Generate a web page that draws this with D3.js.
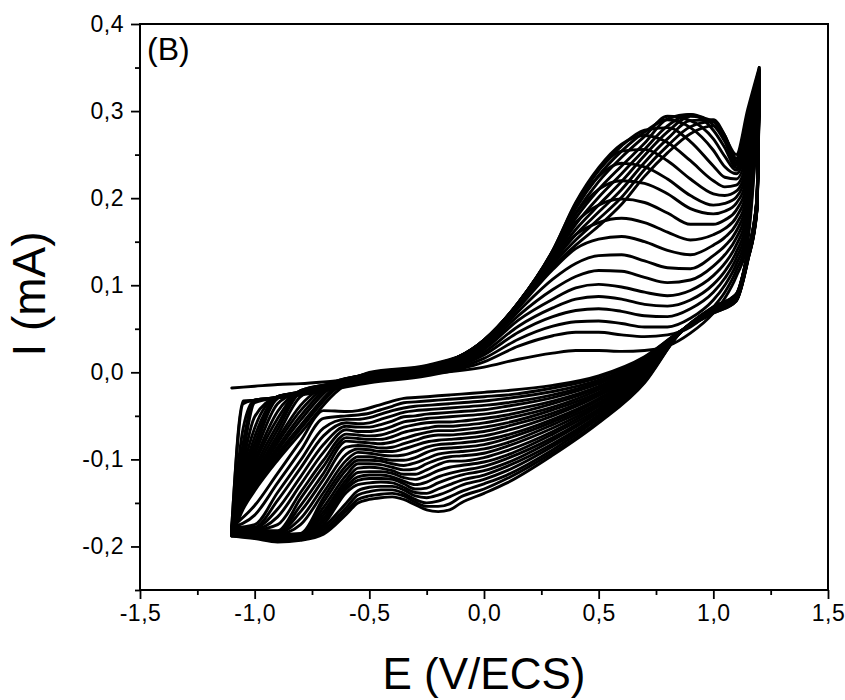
<!DOCTYPE html>
<html><head><meta charset="utf-8">
<script src="https://cdn.jsdelivr.net/npm/d3@7"></script>
<style>
body{margin:0;background:#fff}
svg{display:block}
text{font-family:"Liberation Sans",Arial,Helvetica,sans-serif;fill:#000}
</style>
</head><body>
<svg id="chart" width="845" height="700"></svg>
<script>
// ---- data ----
const anodicE = [-1.1,-1.05,-1.0,-0.9,-0.8,-0.65,-0.5,-0.25,0.0,0.15,0.3,0.4,0.5,0.6,0.7,0.8,0.9,1.0,1.05,1.1,1.15,1.2];
const cathodicE = [1.19,1.15,1.1,1.0,0.85,0.7,0.5,0.3,0.1,0.0,-0.1,-0.15,-0.2,-0.25,-0.3,-0.35,-0.4,-0.45,-0.5,-0.55,-0.6,-0.7,-0.8,-0.9,-1.0,-1.1];

// one row per cycle (forward sweep, current in mA at anodicE)
const anodicI = [
[-0.018,-0.017,-0.016,-0.014,-0.013,-0.010,-0.007,-0.002,0.006,0.015,0.022,0.025,0.025,0.024,0.025,0.030,0.045,0.068,0.085,0.110,0.150,0.318],
[-0.178,-0.033,-0.032,-0.029,-0.026,-0.019,-0.012,-0.004,0.012,0.030,0.042,0.046,0.046,0.043,0.041,0.043,0.052,0.075,0.092,0.117,0.157,0.320],
[-0.178,-0.036,-0.032,-0.029,-0.025,-0.018,-0.011,-0.003,0.016,0.038,0.053,0.058,0.059,0.056,0.052,0.052,0.062,0.083,0.100,0.124,0.164,0.323],
[-0.179,-0.064,-0.032,-0.029,-0.025,-0.018,-0.010,-0.002,0.020,0.046,0.064,0.071,0.073,0.070,0.065,0.064,0.073,0.092,0.108,0.131,0.171,0.325],
[-0.179,-0.081,-0.032,-0.029,-0.025,-0.017,-0.010,-0.002,0.023,0.053,0.074,0.084,0.087,0.084,0.078,0.076,0.083,0.101,0.116,0.138,0.178,0.327],
[-0.180,-0.094,-0.035,-0.029,-0.024,-0.016,-0.009,-0.001,0.026,0.060,0.084,0.097,0.101,0.098,0.092,0.088,0.094,0.111,0.125,0.146,0.185,0.329],
[-0.180,-0.103,-0.051,-0.028,-0.024,-0.016,-0.009,-0.001,0.028,0.065,0.095,0.110,0.117,0.116,0.109,0.103,0.106,0.122,0.135,0.154,0.192,0.331],
[-0.181,-0.111,-0.064,-0.028,-0.024,-0.016,-0.008,0.000,0.030,0.070,0.107,0.125,0.134,0.135,0.128,0.120,0.119,0.134,0.145,0.162,0.199,0.333],
[-0.181,-0.117,-0.074,-0.028,-0.023,-0.015,-0.008,0.000,0.032,0.074,0.118,0.142,0.153,0.156,0.150,0.140,0.135,0.146,0.155,0.170,0.206,0.335],
[-0.181,-0.122,-0.082,-0.028,-0.023,-0.015,-0.007,0.001,0.033,0.077,0.127,0.158,0.172,0.177,0.172,0.161,0.152,0.158,0.165,0.178,0.213,0.336],
[-0.182,-0.127,-0.089,-0.030,-0.022,-0.014,-0.007,0.001,0.034,0.078,0.133,0.172,0.192,0.199,0.195,0.183,0.170,0.170,0.175,0.186,0.220,0.337],
[-0.182,-0.130,-0.095,-0.036,-0.022,-0.014,-0.006,0.002,0.035,0.079,0.137,0.182,0.210,0.220,0.217,0.205,0.188,0.182,0.185,0.194,0.227,0.338],
[-0.183,-0.134,-0.101,-0.045,-0.022,-0.014,-0.006,0.002,0.036,0.080,0.139,0.190,0.225,0.240,0.236,0.222,0.203,0.192,0.194,0.201,0.234,0.339],
[-0.183,-0.137,-0.105,-0.053,-0.021,-0.013,-0.005,0.003,0.036,0.080,0.140,0.194,0.232,0.254,0.256,0.243,0.222,0.205,0.203,0.208,0.241,0.340],
[-0.184,-0.140,-0.110,-0.060,-0.021,-0.013,-0.005,0.003,0.037,0.080,0.140,0.195,0.235,0.262,0.272,0.264,0.243,0.220,0.213,0.215,0.248,0.340],
[-0.184,-0.142,-0.114,-0.066,-0.023,-0.012,-0.004,0.004,0.037,0.080,0.139,0.192,0.232,0.260,0.278,0.281,0.265,0.237,0.224,0.222,0.255,0.341],
[-0.185,-0.145,-0.118,-0.072,-0.028,-0.012,-0.004,0.004,0.037,0.080,0.138,0.188,0.226,0.254,0.276,0.290,0.281,0.255,0.236,0.228,0.262,0.342],
[-0.185,-0.147,-0.121,-0.077,-0.038,-0.011,-0.003,0.005,0.037,0.080,0.137,0.183,0.219,0.247,0.271,0.294,0.289,0.268,0.248,0.232,0.269,0.343],
[-0.185,-0.148,-0.123,-0.081,-0.044,-0.011,-0.003,0.005,0.037,0.079,0.135,0.177,0.210,0.237,0.263,0.291,0.296,0.278,0.258,0.235,0.276,0.344],
[-0.186,-0.151,-0.126,-0.086,-0.050,-0.012,-0.002,0.006,0.036,0.079,0.132,0.170,0.201,0.228,0.256,0.283,0.296,0.284,0.265,0.238,0.283,0.345],
[-0.186,-0.152,-0.129,-0.090,-0.055,-0.014,-0.002,0.006,0.036,0.078,0.130,0.164,0.192,0.219,0.249,0.276,0.294,0.288,0.270,0.240,0.289,0.346],
[-0.187,-0.154,-0.132,-0.094,-0.061,-0.017,-0.001,0.007,0.035,0.078,0.127,0.158,0.184,0.210,0.241,0.268,0.289,0.290,0.272,0.243,0.294,0.347],
[-0.187,-0.155,-0.133,-0.097,-0.065,-0.020,-0.001,0.007,0.035,0.077,0.124,0.152,0.176,0.201,0.233,0.260,0.282,0.288,0.272,0.246,0.298,0.348],
[-0.188,-0.157,-0.136,-0.101,-0.070,-0.024,0.000,0.008,0.034,0.076,0.121,0.146,0.168,0.193,0.225,0.252,0.274,0.283,0.270,0.250,0.302,0.350]
];

// one row per cycle (reverse sweep, current in mA at cathodicE)
const cathodicI = [
[0.185,0.128,0.082,0.068,0.046,0.018,-0.004,-0.015,-0.021,-0.023,-0.025,-0.026,-0.027,-0.028,-0.029,-0.030,-0.033,-0.037,-0.041,-0.044,-0.045,-0.044,-0.079,-0.116,-0.153,-0.178],
[0.186,0.128,0.082,0.068,0.046,0.017,-0.006,-0.018,-0.026,-0.028,-0.030,-0.031,-0.032,-0.033,-0.034,-0.035,-0.039,-0.043,-0.047,-0.049,-0.050,-0.053,-0.090,-0.127,-0.164,-0.178],
[0.186,0.129,0.083,0.069,0.046,0.015,-0.009,-0.022,-0.030,-0.033,-0.035,-0.036,-0.037,-0.038,-0.039,-0.041,-0.044,-0.048,-0.052,-0.054,-0.054,-0.064,-0.101,-0.138,-0.175,-0.179],
[0.187,0.129,0.083,0.069,0.046,0.014,-0.011,-0.026,-0.035,-0.038,-0.040,-0.041,-0.042,-0.043,-0.044,-0.046,-0.050,-0.054,-0.058,-0.059,-0.058,-0.073,-0.110,-0.147,-0.178,-0.179],
[0.188,0.130,0.083,0.069,0.046,0.013,-0.013,-0.029,-0.039,-0.043,-0.045,-0.046,-0.047,-0.048,-0.050,-0.051,-0.056,-0.060,-0.063,-0.063,-0.062,-0.083,-0.120,-0.157,-0.179,-0.180],
[0.188,0.130,0.084,0.070,0.046,0.012,-0.016,-0.033,-0.044,-0.048,-0.050,-0.051,-0.052,-0.053,-0.055,-0.057,-0.062,-0.066,-0.068,-0.068,-0.066,-0.092,-0.129,-0.166,-0.180,-0.180],
[0.189,0.131,0.084,0.070,0.045,0.010,-0.018,-0.036,-0.049,-0.053,-0.056,-0.057,-0.057,-0.058,-0.060,-0.063,-0.068,-0.072,-0.073,-0.072,-0.071,-0.101,-0.138,-0.175,-0.181,-0.181],
[0.190,0.131,0.084,0.070,0.045,0.009,-0.020,-0.040,-0.053,-0.058,-0.061,-0.062,-0.062,-0.064,-0.066,-0.069,-0.074,-0.077,-0.077,-0.076,-0.075,-0.108,-0.145,-0.182,-0.181,-0.181],
[0.190,0.131,0.085,0.070,0.045,0.008,-0.023,-0.043,-0.058,-0.063,-0.066,-0.067,-0.067,-0.069,-0.072,-0.076,-0.080,-0.082,-0.081,-0.080,-0.079,-0.116,-0.153,-0.183,-0.182,-0.181],
[0.191,0.132,0.085,0.071,0.045,0.006,-0.025,-0.047,-0.062,-0.068,-0.071,-0.072,-0.072,-0.074,-0.078,-0.082,-0.086,-0.087,-0.085,-0.084,-0.086,-0.123,-0.160,-0.184,-0.182,-0.182],
[0.192,0.132,0.086,0.071,0.045,0.005,-0.027,-0.050,-0.067,-0.073,-0.076,-0.077,-0.078,-0.080,-0.084,-0.088,-0.091,-0.091,-0.089,-0.088,-0.094,-0.131,-0.168,-0.185,-0.183,-0.182],
[0.192,0.133,0.086,0.071,0.045,0.004,-0.030,-0.054,-0.072,-0.078,-0.081,-0.082,-0.083,-0.086,-0.091,-0.095,-0.096,-0.095,-0.093,-0.092,-0.101,-0.138,-0.175,-0.186,-0.184,-0.183],
[0.193,0.133,0.086,0.072,0.045,0.002,-0.032,-0.057,-0.076,-0.083,-0.086,-0.087,-0.088,-0.092,-0.098,-0.101,-0.101,-0.099,-0.097,-0.097,-0.107,-0.144,-0.185,-0.186,-0.184,-0.183],
[0.193,0.134,0.087,0.072,0.045,0.001,-0.035,-0.060,-0.081,-0.088,-0.091,-0.092,-0.094,-0.099,-0.104,-0.107,-0.105,-0.102,-0.101,-0.101,-0.112,-0.149,-0.186,-0.187,-0.185,-0.184],
[0.194,0.134,0.087,0.072,0.045,0.000,-0.037,-0.064,-0.085,-0.093,-0.096,-0.097,-0.100,-0.105,-0.111,-0.112,-0.109,-0.106,-0.105,-0.105,-0.118,-0.155,-0.187,-0.188,-0.186,-0.184],
[0.195,0.134,0.087,0.073,0.045,-0.002,-0.039,-0.068,-0.090,-0.098,-0.102,-0.102,-0.106,-0.112,-0.117,-0.117,-0.113,-0.110,-0.109,-0.110,-0.123,-0.160,-0.187,-0.189,-0.186,-0.185],
[0.195,0.135,0.088,0.073,0.044,-0.003,-0.042,-0.071,-0.095,-0.103,-0.107,-0.109,-0.113,-0.119,-0.123,-0.121,-0.116,-0.114,-0.114,-0.115,-0.127,-0.164,-0.188,-0.190,-0.187,-0.185],
[0.196,0.135,0.088,0.073,0.044,-0.004,-0.044,-0.075,-0.099,-0.108,-0.113,-0.116,-0.120,-0.126,-0.129,-0.125,-0.120,-0.118,-0.118,-0.120,-0.131,-0.168,-0.189,-0.190,-0.187,-0.185],
[0.197,0.136,0.088,0.073,0.044,-0.005,-0.046,-0.078,-0.104,-0.113,-0.118,-0.122,-0.127,-0.133,-0.134,-0.128,-0.123,-0.122,-0.122,-0.124,-0.134,-0.171,-0.190,-0.191,-0.188,-0.186],
[0.197,0.136,0.089,0.074,0.044,-0.007,-0.049,-0.082,-0.108,-0.118,-0.124,-0.129,-0.134,-0.139,-0.138,-0.132,-0.127,-0.126,-0.127,-0.129,-0.138,-0.175,-0.190,-0.192,-0.189,-0.186],
[0.198,0.137,0.089,0.074,0.044,-0.008,-0.051,-0.085,-0.113,-0.123,-0.130,-0.136,-0.141,-0.144,-0.142,-0.135,-0.131,-0.131,-0.132,-0.136,-0.150,-0.178,-0.191,-0.193,-0.189,-0.187],
[0.199,0.137,0.089,0.074,0.044,-0.009,-0.053,-0.089,-0.118,-0.128,-0.137,-0.143,-0.148,-0.150,-0.146,-0.139,-0.135,-0.135,-0.137,-0.141,-0.155,-0.181,-0.192,-0.193,-0.190,-0.187],
[0.199,0.137,0.090,0.075,0.044,-0.011,-0.056,-0.092,-0.122,-0.134,-0.143,-0.151,-0.154,-0.154,-0.149,-0.142,-0.139,-0.140,-0.142,-0.146,-0.159,-0.184,-0.192,-0.194,-0.190,-0.188],
[0.200,0.138,0.090,0.075,0.044,-0.012,-0.058,-0.095,-0.127,-0.139,-0.150,-0.158,-0.160,-0.158,-0.152,-0.146,-0.143,-0.144,-0.146,-0.150,-0.163,-0.186,-0.193,-0.195,-0.191,-0.188]
];

const xTicks = [-1.5,-1.0,-0.5,0.0,0.5,1.0,1.5];
const xMinor = [-1.25,-0.75,-0.25,0.25,0.75,1.25];
const yTicks = [-0.2,-0.1,0.0,0.1,0.2,0.3,0.4];
const yMinor = [-0.25,-0.15,-0.05,0.05,0.15,0.25,0.35];
const xTitle = "E (V/ECS)";
const yTitle = "I (mA)";
const panelLabel = "(B)";

// ---- drawing ----
const svg = d3.select("#chart");
const mLeft = 140, mRight = 828, mTop = 24, mBottom = 590;
const x = d3.scaleLinear().domain([-1.5, 1.5]).range([mLeft, mRight]);
const y = d3.scaleLinear().domain([-0.25, 0.4]).range([mBottom, mTop]);

const fmt = d => d3.format(".1f")(d).replace("\u2212", "-").replace(".", ",");

const line = d3.line().x(d => x(d[0])).y(d => y(d[1])).curve(d3.curveMonotoneX);

const curves = svg.append("g")
  .attr("fill", "none").attr("stroke", "#000")
  .attr("stroke-width", 2.9).attr("stroke-linejoin", "round").attr("stroke-linecap", "round");

anodicI.forEach((row, k) => {
  const fwd = anodicE.map((e, i) => [e, row[i]]);
  curves.append("path").attr("d", line(fwd));
  const endPt = [anodicE[anodicE.length - 1], row[row.length - 1]];
  const rev = [endPt].concat(cathodicE.map((e, i) => [e, cathodicI[k][i]]));
  rev.reverse(); // ascending potential for the monotone curve
  curves.append("path").attr("d", line(rev));
});

// axes
const xAxis = d3.axisBottom(x).tickValues(xTicks).tickFormat(fmt).tickSize(9).tickPadding(6);
const gx = svg.append("g").attr("transform", `translate(0,${mBottom})`).call(xAxis);
const yAxis = d3.axisLeft(y).tickValues(yTicks).tickFormat(fmt).tickSize(9).tickPadding(7);
const gy = svg.append("g").attr("transform", `translate(${mLeft},0)`).call(yAxis);
svg.append("g").attr("transform", `translate(0,${mBottom})`)
  .call(d3.axisBottom(x).tickValues(xMinor).tickFormat("").tickSize(5));
svg.append("g").attr("transform", `translate(${mLeft},0)`)
  .call(d3.axisLeft(y).tickValues(yMinor).tickFormat("").tickSize(5));

svg.selectAll(".tick line").attr("stroke", "#000").attr("stroke-width", 1.8);
svg.selectAll(".domain").remove();
[gx, gy].forEach(g => g.selectAll("text")
  .attr("font-family", "'Liberation Sans', Arial, sans-serif")
  .attr("font-size", 23).attr("letter-spacing", "0.5px").attr("fill", "#000"));

// frame
svg.append("rect").attr("x", mLeft).attr("y", mTop)
  .attr("width", mRight - mLeft).attr("height", mBottom - mTop)
  .attr("fill", "none").attr("stroke", "#000").attr("stroke-width", 2);

// titles
svg.append("text").attr("x", (mLeft + mRight) / 2).attr("y", 689)
  .attr("text-anchor", "middle").attr("font-size", 44).text(xTitle);
svg.append("text").attr("transform", "translate(45,294) rotate(-90)")
  .attr("text-anchor", "middle").attr("font-size", 46).text(yTitle);
svg.append("text").attr("x", 147).attr("y", 60).attr("font-size", 32).text(panelLabel);
</script>
</body></html>
